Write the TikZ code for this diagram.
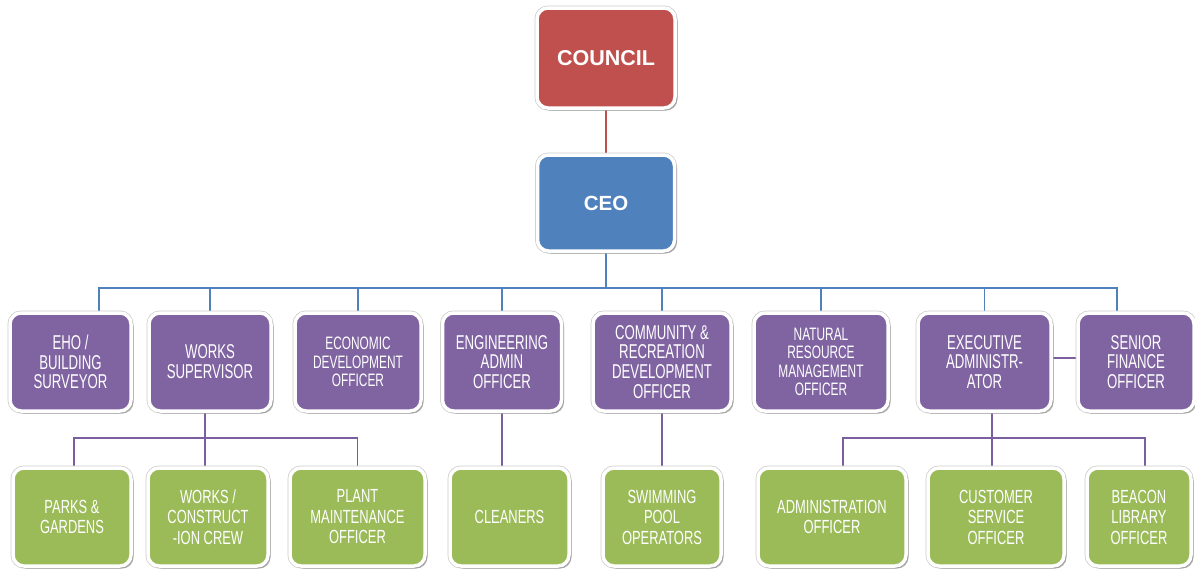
\documentclass[tikz,border=0pt]{standalone}
\usepackage{fontspec}
\setmainfont{Liberation Sans}
\newfontfamily\narrowfont[FakeStretch=0.66]{Liberation Sans}
\newfontfamily\greenfont[FakeStretch=0.68]{Liberation Sans}
\usetikzlibrary{shadows,backgrounds}
\definecolor{councilred}{HTML}{C0504D}
\definecolor{ceoblue}{HTML}{4F81BD}
\definecolor{deptpurple}{HTML}{8064A2}
\definecolor{staffgreen}{HTML}{9BBB59}
\definecolor{linkpurple}{HTML}{7B5EA0}
\begin{document}
\begin{tikzpicture}[x=1pt,y=-1pt,
  box/.style={rectangle, rounded corners=11pt, fill=#1, draw=white, line width=3.5pt,
    preaction={draw=black!20, line width=5pt},
    drop shadow={shadow xshift=2.5pt, shadow yshift=-2.5pt, opacity=0.4, fill=black!70},
    text=white, align=center, inner sep=0pt},
  topbox/.style={box=#1, font=\bfseries\fontsize{21.5}{24}\selectfont},
  deptbox/.style={box=deptpurple, minimum height=98pt, font=\narrowfont\fontsize{20}{19.8}\selectfont},
  smalldept/.style={deptbox, font=\narrowfont\fontsize{18}{18.4}\selectfont},
  staffbox/.style={box=staffgreen, minimum height=98pt, font=\greenfont\fontsize{19}{20.5}\selectfont},
  redlink/.style={draw=councilred, line width=1.8pt},
  bluelink/.style={draw=ceoblue, line width=1.5pt},
  purplelink/.style={draw=linkpurple, line width=1.8pt}]
\useasboundingbox (0,0) rectangle (1195,571);

% top of the chart
\node[topbox=councilred, minimum width=138pt, minimum height=100pt] (council) at (606,58) {COUNCIL};
\node[topbox=ceoblue, minimum width=137pt, minimum height=96pt, font=\bfseries\fontsize{20.5}{24}\selectfont] (ceo) at (606,203) {CEO};

% departments
\node[deptbox, minimum width=121pt] (eho) at (70.5,362) {EHO /\\BUILDING\\SURVEYOR};
\node[deptbox, minimum width=122pt] (worksup) at (210,362) {WORKS\\SUPERVISOR};
\node[smalldept, minimum width=126pt] (econ) at (358,362) {ECONOMIC\\DEVELOPMENT\\OFFICER};
\node[deptbox, minimum width=119pt] (eng) at (502,362) {ENGINEERING\\ADMIN\\OFFICER};
\node[deptbox, minimum width=138pt] (comm) at (662,362) {COMMUNITY \&\\RECREATION\\DEVELOPMENT\\OFFICER};
\node[smalldept, minimum width=134pt] (nat) at (821,362) {NATURAL\\RESOURCE\\MANAGEMENT\\OFFICER};
\node[deptbox, minimum width=133pt] (exec) at (984.5,362) {EXECUTIVE\\ADMINISTR-\\ATOR};
\node[deptbox, minimum width=116pt] (senior) at (1136,362) {SENIOR\\FINANCE\\OFFICER};

% staff
\node[staffbox, minimum width=118pt] (parks) at (72,517) {PARKS \&\\GARDENS};
\node[staffbox, minimum width=120pt] (crew) at (208,517) {WORKS /\\CONSTRUCT\\-ION CREW};
\node[staffbox, minimum width=135pt] (plant) at (357.5,517) {PLANT\\MAINTENANCE\\OFFICER};
\node[staffbox, minimum width=119pt] (cleaners) at (509.5,517) {CLEANERS};
\node[staffbox, minimum width=118pt] (swim) at (662,517) {SWIMMING\\POOL\\OPERATORS};
\node[staffbox, minimum width=148pt] (admin) at (832,517) {ADMINISTRATION\\OFFICER};
\node[staffbox, minimum width=136pt] (cust) at (996,517) {CUSTOMER\\SERVICE\\OFFICER};
\node[staffbox, minimum width=104pt] (beacon) at (1139,517) {BEACON\\LIBRARY\\OFFICER};

\coordinate (bus) at (0,288);
\coordinate (wbus) at (0,438);
\coordinate (ebus) at (0,438);

\begin{scope}[on background layer]
  \draw[redlink] (council.south) -- (ceo.north);
  \draw[bluelink] (ceo.south) -- (ceo.south |- bus);
  \draw[bluelink] ([xshift=28.5pt]eho.north) |- ([xshift=-19pt]senior.north |- bus) -- ([xshift=-19pt]senior.north);
  \foreach \d in {worksup,econ,eng,comm,nat,exec}
    \draw[bluelink] (\d.north) -- (\d.north |- bus);
  \draw[purplelink] ([yshift=4pt]exec.east) -- ([yshift=4pt]senior.west);

  \draw[purplelink] ([xshift=-5pt]worksup.south) -- ([xshift=-3pt]crew.north);
  \draw[purplelink] ([xshift=2pt]parks.north) |- (plant.north |- wbus) -- (plant.north);
  \draw[purplelink] (eng.south) -- (eng.south |- cleaners.north);
  \draw[purplelink] (comm.south) -- (swim.north);
  \draw[purplelink] ([xshift=7.5pt]exec.south) -- ([xshift=-4pt]cust.north);
  \draw[purplelink] ([xshift=11pt]admin.north) |- ([xshift=6pt]beacon.north |- ebus) -- ([xshift=6pt]beacon.north);
\end{scope}
\end{tikzpicture}
\end{document}
